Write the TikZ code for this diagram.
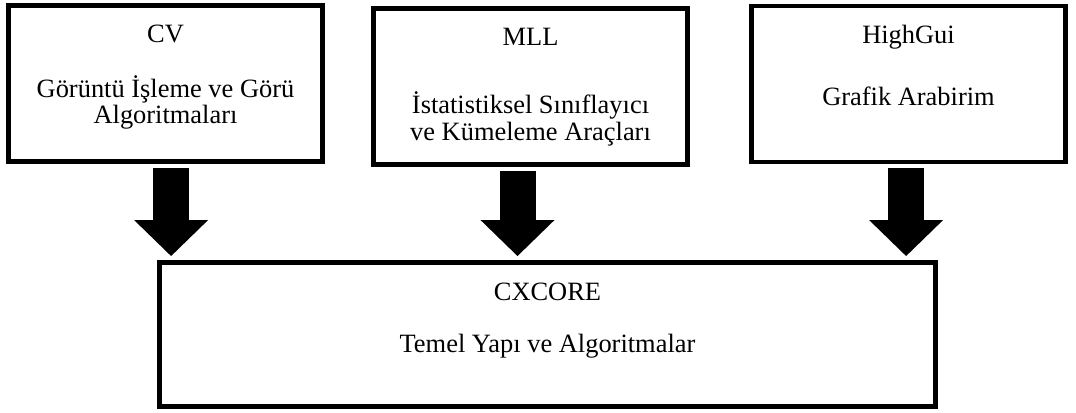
\documentclass[tikz,border=0pt]{standalone}
\usepackage{fontspec}
\setmainfont{Liberation Serif}
\usetikzlibrary{arrows.meta, positioning}

\tikzset{
  modbox/.style={draw, line width=3.5pt, minimum width=7.85cm, minimum height=3.9cm},
  lbl/.style={anchor=base, inner sep=0pt, font=\fontsize{18.8}{22}\selectfont},
  bigarrow/.style={line width=0.9cm, shorten <=0.1cm, shorten >=0.1cm,
    -{Triangle[length=0.9cm, width=1.85cm, line width=0pt]}}
}

\begin{document}
\begin{tikzpicture}[scale=1]
        \fill[white] (0,0) rectangle (26.9,-10.3);
        \useasboundingbox (0,0) rectangle (26.9,-10.3);

        % Upper modules
        \node[modbox] (cv) at (4.1375,-2.0875) {};
        \node[lbl] (cvname) at (4.1375,-1.05) {CV};
        \node[lbl] (cvtxta) at (4.1375,-2.425) {Görüntü İşleme ve Görü};
        \node[lbl] (cvtxtb) at (4.1375,-3.075) {Algoritmaları};

        \node[modbox] (mll) at (13.2625,-2.1625) {};
        \node[lbl] (mllname) at (13.2625,-1.125) {MLL};
        \node[lbl] (mlltxta) at (13.2625,-2.825) {İstatistiksel Sınıflayıcı};
        \node[lbl] (mlltxtb) at (13.2625,-3.5) {ve Kümeleme Araçları};

        \node[modbox] (gui) at (22.7125,-2.1) {};
        \node[lbl] (guiname) at (22.7125,-1.075) {HighGui};
        \node[lbl] (guitxt) at (22.7125,-2.625) {Grafik Arabirim};

        % Core module
        \node[modbox, minimum width=19.4cm, minimum height=3.6cm] (core) at (13.6875,-8.3625) {};
        \node[lbl] (corename) at (13.6875,-7.5) {CXCORE};
        \node[lbl] (coretxt) at (13.6875,-8.8) {Temel Yapı ve Algoritmalar};

        % Arrows
        \draw[bigarrow] ([xshift=0.14cm]cv.south) -- ([xshift=0.14cm]cv.south |- core.north);
        \draw[bigarrow] ([xshift=-0.325cm]mll.south) -- ([xshift=-0.325cm]mll.south |- core.north);
        \draw[bigarrow] ([xshift=-0.06cm]gui.south) -- ([xshift=-0.06cm]gui.south |- core.north);
    \end{tikzpicture}
\end{document}
